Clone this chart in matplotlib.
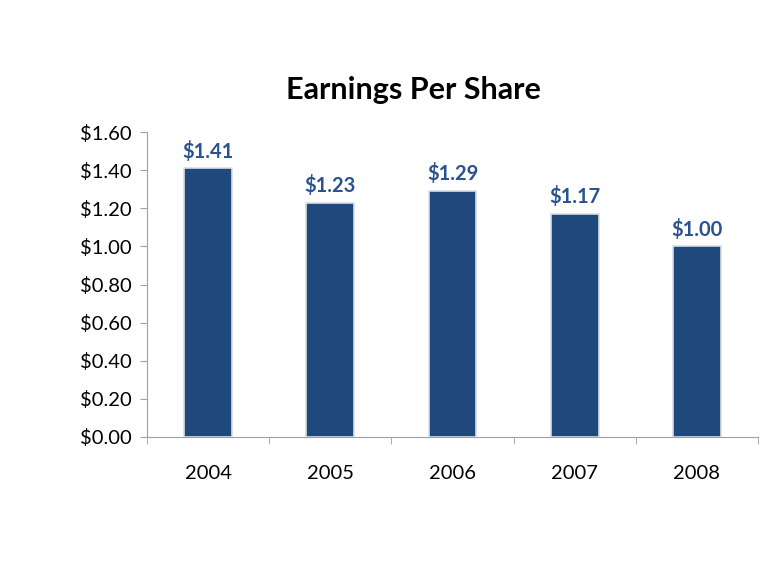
import matplotlib
matplotlib.use("Agg")
import matplotlib.pyplot as plt
import numpy as np

plt.rcParams['font.family'] = ['Lato', 'DejaVu Sans']

years = ["2004", "2005", "2006", "2007", "2008"]
eps = [1.41, 1.23, 1.29, 1.17, 1.00]
yticks = [0.0, 0.2, 0.4, 0.6, 0.8, 1.0, 1.2, 1.4, 1.6]

bar_color = "#1F497D"
label_color = "#2A5290"

fig = plt.figure(figsize=(7.8, 5.85), dpi=100)
ax = fig.add_axes([147/780, 1-437/585, (758-147)/780, (437-132)/585])

x = np.arange(len(years))
ax.bar(x, eps, width=0.39, color=bar_color, edgecolor="#D9DDE3", linewidth=1.2, zorder=3)
for xi, v in zip(x, eps):
    ax.text(xi, v + 0.035, f"${v:.2f}", ha="center", va="bottom",
            fontsize=14.5, fontweight="bold", color=label_color)

ax.set_xlim(-0.5, len(years) - 0.5)
ax.set_ylim(0, 1.6)
ax.set_yticks(yticks)
ax.set_yticklabels([f"${t:.2f}" for t in yticks], fontsize=14.5)
ax.set_xticks(x)
ax.set_xticklabels(years, fontsize=14.5)
ax.set_xticks(np.arange(-0.5, len(years)), minor=True)
ax.tick_params(axis="x", which="major", length=0, pad=20)
ax.tick_params(axis="x", which="minor", length=5, color="#A0A0A0")
ax.tick_params(axis="y", length=5, color="#A0A0A0", pad=6)

for s in ["top", "right"]:
    ax.spines[s].set_visible(False)
for s in ["left", "bottom"]:
    ax.spines[s].set_color("#A0A0A0")

fig.text(413/780, 1-90/585, "Earnings Per Share", ha="center", va="center",
         fontsize=22, fontweight="bold", color="black")

fig.savefig("out.png", dpi=100)
